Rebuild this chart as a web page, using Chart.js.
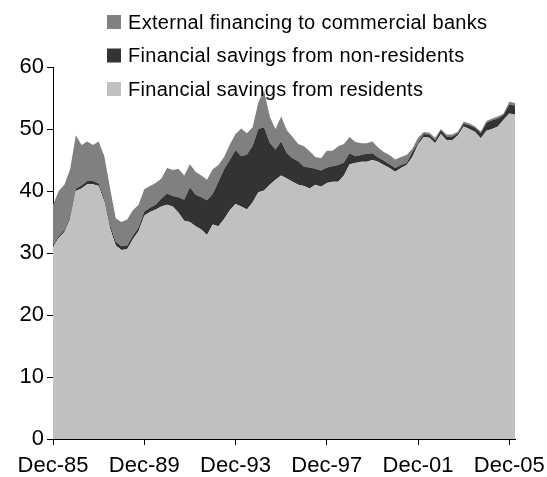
<!DOCTYPE html>
<html>
<head>
<meta charset="utf-8">
<script src="https://cdn.jsdelivr.net/npm/chart.js@4/dist/chart.umd.min.js"></script>
<style>
html,body{margin:0;padding:0;background:#fff;}
#wrap{width:547px;height:477px;position:relative;}
</style>
</head>
<body>
<div id="wrap"><canvas id="c" width="547" height="477"></canvas></div>
<script>
const quarters = [
"Dec-85","Mar-86","Jun-86","Sep-86","Dec-86","Mar-87","Jun-87","Sep-87",
"Dec-87","Mar-88","Jun-88","Sep-88","Dec-88","Mar-89","Jun-89","Sep-89",
"Dec-89","Mar-90","Jun-90","Sep-90","Dec-90","Mar-91","Jun-91","Sep-91",
"Dec-91","Mar-92","Jun-92","Sep-92","Dec-92","Mar-93","Jun-93","Sep-93",
"Dec-93","Mar-94","Jun-94","Sep-94","Dec-94","Mar-95","Jun-95","Sep-95",
"Dec-95","Mar-96","Jun-96","Sep-96","Dec-96","Mar-97","Jun-97","Sep-97",
"Dec-97","Mar-98","Jun-98","Sep-98","Dec-98","Mar-99","Jun-99","Sep-99",
"Dec-99","Mar-00","Jun-00","Sep-00","Dec-00","Mar-01","Jun-01","Sep-01",
"Dec-01","Mar-02","Jun-02","Sep-02","Dec-02","Mar-03","Jun-03","Sep-03",
"Dec-03","Mar-04","Jun-04","Sep-04","Dec-04","Mar-05","Jun-05","Sep-05",
"Dec-05","Mar-06"];

const tickLabels = ["Dec-85","Dec-89","Dec-93","Dec-97","Dec-01","Dec-05"];
const yTicks = [0,10,20,30,40,50,60];

const residents = [
31.0,32.4,33.4,35.5,40.0,40.4,41.1,41.1,
40.8,38.3,34.0,31.2,30.5,30.6,32.2,33.5,
36.0,36.6,37.0,37.5,37.8,37.5,36.5,35.2,
35.0,34.3,33.8,32.9,34.6,34.3,35.5,36.9,
37.9,37.5,37.0,38.2,39.8,40.1,41.0,41.8,
42.5,42.0,41.5,41.0,40.8,40.4,41.0,40.7,
41.3,41.5,41.5,42.5,44.3,44.5,44.7,44.7,
45.0,44.7,44.2,43.7,43.1,43.7,44.2,45.5,
47.5,48.7,48.6,47.7,49.2,48.2,48.2,49.0,
50.4,50.0,49.5,48.5,49.7,50.0,50.4,51.5,
52.5,52.3];

const nonResidents = [
0.3,0.3,0.3,0.3,0.4,0.5,0.5,0.5,
0.4,0.4,0.5,0.6,0.6,0.6,0.6,0.6,
0.7,0.7,0.8,1.3,1.8,1.7,2.5,3.4,
5.6,5.1,5.2,5.6,4.9,7.2,8.0,8.1,
8.7,8.1,8.9,9.1,10.2,10.2,6.8,4.9,
5.5,4.1,3.8,3.8,3.1,3.4,2.6,2.6,
2.5,2.5,2.7,2.1,1.8,1.1,1.1,1.3,
1.1,0.7,0.7,0.6,0.6,0.5,0.3,0.8,
0.3,0.5,0.5,0.5,0.6,0.6,0.6,0.3,
0.5,0.6,0.7,0.8,1.3,1.4,1.3,0.8,
1.4,1.5];

const externalBanks = [
6.5,7.3,7.3,7.7,8.6,6.5,6.4,5.8,
6.8,6.9,6.0,3.8,3.9,4.2,4.1,3.7,
3.6,3.5,3.5,3.2,4.1,4.2,4.6,3.9,
3.7,3.7,3.5,3.3,4.0,2.7,2.0,2.5,
2.6,4.5,3.4,3.0,4.3,5.9,4.2,3.3,
4.0,3.7,3.4,2.8,3.3,2.6,1.9,2.0,
2.7,2.5,3.0,3.0,2.6,2.3,1.9,1.7,
1.9,1.6,1.4,1.5,1.4,1.3,1.3,0.5,
0.8,0.3,0.3,0.4,0.2,0.3,0.3,0.3,
0.3,0.3,0.2,0.3,0.3,0.3,0.3,0.2,
0.5,0.4];

const seriesNames = ["Financial savings from residents","Financial savings from non-residents","External financing to commercial banks"];
const seriesColors = ["#c0c0c0","#333333","#808080"];

const FONT = "'Liberation Sans', Arial, sans-serif";

const legendPlugin = {
  id: 'customLegend',
  afterDraw(chart) {
    const ctx = chart.ctx;
    ctx.save();
    const order = [2,1,0];
    ctx.font = "20px " + FONT;
    try { ctx.letterSpacing = '0.3px'; } catch (e) {}
    ctx.textBaseline = 'middle';
    ctx.textAlign = 'left';
    order.forEach((di, row) => {
      const cy = 22 + row * 33.5;
      ctx.fillStyle = seriesColors[di];
      ctx.fillRect(107, cy - 7, 14, 14);
      ctx.fillStyle = '#000';
      ctx.fillText(seriesNames[di], 128, cy + 1);
    });
    ctx.restore();
  }
};

new Chart(document.getElementById('c'), {
  type: 'line',
  data: {
    labels: quarters,
    datasets: [
      {label: seriesNames[0], data: residents, backgroundColor: seriesColors[0], borderColor: 'rgba(0,0,0,0)', borderWidth: 0, fill: 'origin', pointRadius: 0, tension: 0},
      {label: seriesNames[1], data: nonResidents, backgroundColor: seriesColors[1], borderColor: 'rgba(0,0,0,0)', borderWidth: 0, fill: '-1', pointRadius: 0, tension: 0},
      {label: seriesNames[2], data: externalBanks, backgroundColor: seriesColors[2], borderColor: 'rgba(0,0,0,0)', borderWidth: 0, fill: '-1', pointRadius: 0, tension: 0}
    ]
  },
  options: {
    responsive: false,
    animation: false,
    events: [],
    layout: {padding: {left: 0, right: 32, top: 67, bottom: 0}},
    plugins: {legend: {display: false}, tooltip: {enabled: false}, filler: {propagate: false}},
    scales: {
      x: {
        type: 'category',
        offset: false,
        stacked: true,
        grid: {
          display: true, drawOnChartArea: false, drawTicks: true, tickLength: 6,
          color: (c) => (c.index % 16 === 0 ? '#000' : 'rgba(0,0,0,0)'), lineWidth: 1
        },
        border: {display: true, color: '#000', width: 1},
        ticks: {
          autoSkip: false, maxRotation: 0, minRotation: 0, padding: 8,
          color: '#000', font: {family: FONT, size: 22},
          callback: function(v, i) { return (i % 16 === 0) ? tickLabels[i / 16] : ''; }
        },
        afterFit: (s) => { s.height = 38; }
      },
      y: {
        stacked: true,
        min: 0, max: 60,
        afterBuildTicks: (s) => { s.ticks = yTicks.map(v => ({value: v})); },
        grid: {display: true, drawOnChartArea: false, drawTicks: true, tickLength: 6, color: '#000'},
        border: {display: true, color: '#000', width: 1},
        ticks: {color: '#000', padding: 3, font: {family: FONT, size: 22}},
        afterFit: (s) => { s.width = 53; }
      }
    }
  },
  plugins: [legendPlugin]
});
</script>
</body>
</html>
